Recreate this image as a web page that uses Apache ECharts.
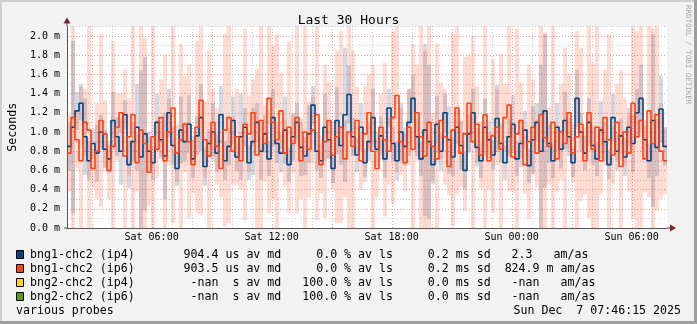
<!DOCTYPE html>
<html>
<head>
<meta charset="utf-8">
<script src="https://cdn.jsdelivr.net/npm/echarts@6/dist/echarts.min.js"></script>
<style>
  html, body { margin: 0; padding: 0; background: #f2f2f2; }
  #chart { width: 697px; height: 324px; }
</style>
</head>
<body>
<div id="chart"></div>
<script>
// Time window, in hours counted from Sat 00:00
const startHour = 1.7708;
const endHour = 31.7708;
const stepHours = 0.2;
const yMax = 2.1;

const tickHours = [6, 12, 18, 24, 30];
const tickLabels = ['Sat 06:00', 'Sat 12:00', 'Sat 18:00', 'Sun 00:00', 'Sun 06:00'];

// Median round-trip time per step (ms)
const ip4Median = [
  0.85, 1.05, 1.22, 1.30, 0.95, 0.70, 0.88, 0.78, 1.00, 0.82,
  0.72, 1.12, 0.95, 0.80, 1.18, 0.66, 0.90, 1.05, 0.74, 0.98,
  0.80, 0.68, 1.10, 0.92, 0.75, 1.20, 0.86, 0.62, 1.02, 0.90,
  1.08, 0.72, 0.96, 1.15, 0.64, 0.88, 1.00, 0.78, 1.18, 0.70,
  0.85, 1.12, 0.74, 0.95, 1.05, 0.68, 0.90, 1.10, 0.80, 0.98,
  0.72, 1.15, 0.88, 0.78, 1.02, 0.66, 0.95, 1.10, 0.84, 0.75,
  0.98, 1.28, 0.80, 0.70, 1.05, 0.92, 0.62, 1.12, 0.86, 1.18,
  1.39, 0.95, 0.76, 1.05, 0.68, 0.90, 1.15, 0.82, 0.96, 0.72,
  1.25, 0.88, 0.70, 1.00, 0.85, 1.10, 1.35, 0.95, 0.72, 1.02,
  0.90, 0.66, 1.08, 0.80, 1.20, 0.92, 0.74, 1.05, 0.86, 0.60,
  0.98, 1.20, 0.84, 0.70, 1.05, 0.92, 0.76, 1.14, 0.88, 0.68,
  0.95, 1.08, 0.72, 0.88, 1.02, 0.65, 0.92, 1.10, 0.80, 1.22,
  0.88, 0.70, 1.05, 0.82, 1.12, 0.95, 0.68, 1.35, 1.00, 0.78,
  1.10, 0.86, 0.72, 1.02, 0.90, 0.66, 1.15, 0.80, 0.96, 0.74,
  1.05, 0.88, 1.20, 1.35, 0.92, 0.70, 1.12, 0.84, 1.24, 0.85
];
const ip6Median = [
  0.78, 1.15, 0.92, 0.70, 1.10, 1.02, 0.62, 0.80, 1.12, 0.98,
  0.60, 0.85, 1.05, 1.20, 0.75, 0.95, 1.18, 0.68, 1.02, 0.88,
  0.58, 0.95, 0.82, 1.15, 0.70, 1.00, 1.25, 0.78, 0.92, 1.08,
  0.90, 0.66, 1.05, 1.33, 0.92, 0.75, 1.10, 0.85, 0.62, 1.02,
  1.15, 0.80, 0.95, 0.70, 1.08, 0.98, 1.20, 0.76, 1.12, 0.88,
  1.35, 1.10, 0.92, 1.22, 0.78, 1.05, 0.88, 1.15, 0.70, 1.00,
  0.82, 1.02, 1.18, 0.66, 0.90, 1.12, 0.76, 0.95, 1.05, 0.72,
  1.00, 0.85, 1.12, 0.70, 0.98, 1.20, 0.80, 0.62, 1.05, 0.92,
  0.80, 1.15, 1.38, 0.90, 0.68, 1.05, 0.82, 1.20, 0.95, 0.75,
  1.10, 0.85, 0.72, 1.12, 0.95, 0.64, 1.02, 1.25, 0.78, 0.98,
  1.30, 0.90, 1.08, 0.76, 1.18, 0.70, 0.96, 1.05, 0.82, 1.15,
  1.28, 0.74, 0.98, 1.12, 0.66, 0.90, 1.05, 0.78, 1.18, 0.94,
  0.85, 1.10, 0.72, 1.00, 0.88, 1.20, 0.78, 0.95, 1.08, 0.70,
  1.20, 0.82, 1.05, 0.70, 1.15, 0.92, 0.76, 1.10, 0.64, 1.00,
  0.78, 1.30, 0.95, 1.12, 0.72, 1.22, 0.88, 1.18, 0.80, 0.70
];

// Standard deviation per step (ms), drawn as smoke around the median
const ip4Sd = [
  0.25, 0.90, 0.20, 0.18, 0.40, 0.20, 0.15, 0.30, 0.18, 0.20,
  0.15, 0.30, 0.20, 0.35, 0.15, 0.25, 0.20, 0.45, 0.90, 0.80,
  0.20, 0.18, 0.30, 0.20, 0.45, 0.25, 0.20, 0.18, 0.35, 0.20,
  0.30, 0.20, 0.20, 0.35, 0.20, 0.15, 0.30, 0.20, 0.30, 0.20,
  0.20, 0.25, 0.15, 0.45, 0.20, 0.18, 0.35, 0.20, 0.30, 0.20,
  0.18, 0.30, 0.20, 0.20, 0.35, 0.18, 0.25, 0.20, 0.30, 0.20,
  0.30, 0.20, 0.20, 0.18, 0.35, 0.20, 0.15, 0.35, 0.20, 0.70,
  0.30, 0.20, 0.18, 0.25, 0.15, 0.20, 0.30, 0.18, 0.20, 0.20,
  0.20, 0.18, 0.20, 0.30, 0.20, 0.35, 0.25, 0.20, 0.18, 0.90,
  0.80, 0.20, 0.30, 0.20, 0.20, 0.35, 0.20, 0.18, 0.25, 0.20,
  0.20, 0.25, 0.20, 0.18, 0.30, 0.20, 0.15, 0.35, 0.20, 0.18,
  0.20, 0.30, 0.18, 0.25, 0.20, 0.18, 0.35, 0.20, 0.90, 0.80,
  0.20, 0.18, 0.25, 0.20, 0.30, 0.20, 0.15, 0.30, 0.20, 0.18,
  0.25, 0.20, 0.18, 0.30, 0.20, 0.15, 0.25, 0.20, 0.18, 0.20,
  0.20, 0.30, 0.25, 0.35, 0.20, 0.18, 0.90, 0.30, 0.35, 0.20
];
const ip6Sd = [
  0.40, 1.20, 0.30, 0.80, 0.35, 1.30, 0.20, 0.50, 0.90, 0.35,
  0.30, 1.10, 0.35, 0.20, 0.90, 0.40, 1.20, 0.30, 1.10, 1.10,
  0.35, 1.20, 0.30, 0.40, 1.10, 0.35, 1.20, 0.30, 1.00, 0.50,
  0.80, 0.30, 0.90, 1.20, 0.40, 1.10, 0.35, 0.40, 0.30, 1.00,
  1.10, 0.35, 0.50, 0.30, 1.00, 0.40, 0.35, 0.90, 1.20, 0.40,
  1.20, 0.80, 1.10, 0.40, 0.35, 0.90, 0.30, 1.00, 0.40, 1.20,
  0.50, 0.35, 1.10, 0.30, 0.80, 0.40, 0.35, 0.90, 1.00, 0.40,
  1.20, 1.00, 0.35, 0.30, 0.50, 0.40, 0.90, 0.30, 0.35, 0.80,
  0.35, 0.90, 0.80, 0.35, 0.30, 0.40, 1.10, 0.50, 1.20, 1.10,
  1.10, 0.35, 1.20, 0.40, 0.50, 0.30, 1.00, 0.90, 0.35, 0.80,
  0.50, 1.10, 0.40, 0.35, 1.20, 0.30, 0.80, 0.40, 1.00, 0.35,
  0.90, 0.35, 1.10, 0.40, 0.30, 0.80, 0.50, 0.35, 1.20, 1.10,
  0.40, 1.20, 0.35, 0.50, 1.00, 0.40, 0.30, 1.10, 0.80, 0.35,
  1.10, 0.90, 1.20, 0.35, 0.50, 1.10, 0.30, 0.40, 1.00, 0.35,
  0.40, 1.20, 1.10, 1.20, 0.35, 0.90, 1.20, 1.00, 0.50, 0.35
];

// Legend rows: swatch colour, target name and summary statistics
const legendColors = ['#004586', '#ff420e', '#ffd320', '#579d1c'];
const legendNames = ['bng1-chc2 (ip4)', 'bng1-chc2 (ip6)', 'bng2-chc2 (ip4)', 'bng2-chc2 (ip6)'];
const avgMedian = ['904.4', '903.5', '-nan', '-nan'];
const avgMedianUnit = ['us', 'us', 's', 's'];
const avgLoss = ['0.0', '0.0', '100.0', '100.0'];
const avgSd = ['0.2', '0.2', '0.0', '0.0'];
const amas = ['2.3', '824.9', '-nan', '-nan'];
const amasUnit = [' ', 'm', ' ', ' '];
const footerLeft = 'various probes';
const footerRight = 'Sun Dec  7 07:46:15 2025';

const MONO = '"DejaVu Sans Mono", "Liberation Mono", monospace';

function legendLine(i) {
  const amasCol = amas[i] === '2.3' ? (amas[i] + ' ').padStart(7) : amas[i].padStart(7);
  const tail = amas[i] === '2.3' ? '  am/as' : ' ' + amasUnit[i] + ' am/as';
  return legendNames[i].padEnd(22) +
    avgMedian[i].padStart(5) + ' ' + avgMedianUnit[i].padStart(2) + ' av md' +
    avgLoss[i].padStart(8) + ' % av ls' +
    avgSd[i].padStart(8) + ' ms sd' +
    amasCol + tail;
}

function smokeSeries(name, med, sd, fill) {
  const data = med.map((m, i) => [startHour + i * stepHours, Math.max(0, m - sd[i]), Math.min(yMax, m + sd[i])]);
  return {
    type: 'custom', name, silent: true, z: 2, animation: false,
    data, encode: { x: 0, y: [1, 2] },
    renderItem(params, api) {
      const t = api.value(0);
      const top = api.coord([t, api.value(2)]);
      const bot = api.coord([t + stepHours, api.value(1)]);
      return { type: 'rect', shape: { x: top[0], y: top[1], width: bot[0] - top[0], height: bot[1] - top[1] }, style: { fill } };
    }
  };
}

function medianLine(name, med, color) {
  const data = med.map((m, i) => [startHour + i * stepHours, m]);
  data.push([endHour, med[med.length - 1]]);
  return {
    type: 'line', name, data, step: 'end', symbol: 'none', z: 5, animation: false,
    lineStyle: { color, width: 1.6 }
  };
}

// hourly vertical grid; every third hour in red
const gridHours = [];
for (let h = Math.ceil(startHour); h < endHour; h++) gridHours.push(h);

const verticalGrid = {
  type: 'custom', silent: true, z: 3, animation: false,
  data: gridHours.map(h => [h]), encode: { x: 0 },
  renderItem(params, api) {
    const h = api.value(0);
    const a = api.coord([h, 0]);
    const b = api.coord([h, yMax]);
    const x = Math.round(a[0]) + 0.5;
    return {
      type: 'line', shape: { x1: x, y1: a[1], x2: x, y2: b[1] },
      style: { stroke: h % 3 === 0 ? 'rgba(225,70,70,0.55)' : 'rgba(150,150,150,0.5)', lineWidth: 1, lineDash: [1, 2] }
    };
  }
};

const axisArrows = {
  type: 'custom', silent: true, z: 6, animation: false,
  data: [[endHour, 0]], encode: { x: 0, y: 1 },
  renderItem(params, api) {
    const o = api.coord([startHour, 0]);
    const xe = api.coord([endHour, 0]);
    const yt = api.coord([startHour, yMax]);
    const fill = '#7f1f1f';
    return {
      type: 'group', children: [
        { type: 'polygon', shape: { points: [[xe[0] + 9, xe[1]], [xe[0] + 3, xe[1] - 3.5], [xe[0] + 3, xe[1] + 3.5]] }, style: { fill } },
        { type: 'polygon', shape: { points: [[yt[0], yt[1] - 9], [yt[0] - 3.5, yt[1] - 3], [yt[0] + 3.5, yt[1] - 3]] }, style: { fill } },
        { type: 'line', shape: { x1: xe[0], y1: xe[1], x2: xe[0] + 4, y2: xe[1] }, style: { stroke: '#555', lineWidth: 1 } },
        { type: 'line', shape: { x1: yt[0], y1: yt[1], x2: yt[0], y2: yt[1] - 4 }, style: { stroke: '#555', lineWidth: 1 } },
        { type: 'line', shape: { x1: o[0] - 3, y1: o[1], x2: o[0], y2: o[1] }, style: { stroke: '#555', lineWidth: 1 } }
      ]
    };
  }
};

const graphics = [
  { type: 'rect', shape: { x: 0, y: 0, width: 697, height: 2 }, style: { fill: '#cfcfcf' }, silent: true },
  { type: 'rect', shape: { x: 0, y: 0, width: 2, height: 324 }, style: { fill: '#cfcfcf' }, silent: true },
  { type: 'rect', shape: { x: 694, y: 0, width: 3, height: 324 }, style: { fill: '#9e9e9e' }, silent: true },
  { type: 'rect', shape: { x: 0, y: 321, width: 697, height: 3 }, style: { fill: '#9e9e9e' }, silent: true },
  {
    type: 'text', x: 688, y: 5, rotation: -Math.PI / 2, silent: true,
    style: { text: 'RRDTOOL / TOBI OETIKER', font: '7.5px ' + MONO, fill: '#a8a8a8', textAlign: 'left', textVerticalAlign: 'middle' }
  }
];
legendNames.forEach((name, i) => {
  const y = 255 + i * 14;
  graphics.push({ type: 'rect', shape: { x: 16.5, y: y - 4.5, width: 7, height: 8 }, style: { fill: legendColors[i], stroke: '#000', lineWidth: 1 }, silent: true });
  graphics.push({ type: 'text', x: 30, y, silent: true, style: { text: legendLine(i), font: '11.6px ' + MONO, fill: '#000', textVerticalAlign: 'middle' } });
});
graphics.push({ type: 'text', x: 16, y: 311, silent: true, style: { text: footerLeft, font: '11.6px ' + MONO, fill: '#000', textVerticalAlign: 'middle' } });
graphics.push({ type: 'text', x: 681, y: 311, silent: true, style: { text: footerRight, font: '11.6px ' + MONO, fill: '#000', textAlign: 'right', textVerticalAlign: 'middle' } });

const chart = echarts.init(document.getElementById('chart'), null, { renderer: 'canvas' });
chart.setOption({
  backgroundColor: '#f2f2f2',
  animation: false,
  title: {
    text: 'Last 30 Hours', left: 'center', top: 9,
    textStyle: { fontFamily: MONO, fontSize: 13, fontWeight: 'normal', color: '#000' }
  },
  grid: {
    left: 67, right: 30, top: 26.4, bottom: 96,
    outerBoundsMode: 'none', containLabel: false,
    backgroundColor: '#ffffff', show: true, borderWidth: 0
  },
  xAxis: {
    type: 'value', min: startHour, max: endHour,
    axisLine: { show: true, lineStyle: { color: '#555', width: 1 } },
    axisTick: { show: false },
    splitLine: { show: false },
    axisLabel: {
      customValues: tickHours,
      formatter: v => tickLabels[tickHours.indexOf(Math.round(v))] || '',
      fontFamily: MONO, fontSize: 10, color: '#000', margin: 4
    }
  },
  yAxis: {
    type: 'value', min: 0, max: yMax, interval: 0.1,
    name: 'Seconds', nameLocation: 'middle', nameRotate: 90, nameGap: 48,
    nameTextStyle: { fontFamily: MONO, fontSize: 11.6, color: '#000' },
    axisLine: { show: true, lineStyle: { color: '#555', width: 1 } },
    axisTick: { show: false },
    axisLabel: {
      formatter: v => (Math.round(v * 10) % 2 === 0 && v < 2.05) ? v.toFixed(1) + ' m' : '',
      fontFamily: MONO, fontSize: 10, color: '#000', margin: 7
    },
    splitLine: { show: true, lineStyle: { color: ['rgba(225,70,70,0.55)', 'rgba(150,150,150,0.5)'], type: [1, 2], width: 1 } }
  },
  graphic: graphics,
  series: [
    smokeSeries('bng1-chc2 (ip4) smoke', ip4Median, ip4Sd, 'rgba(0,69,134,0.19)'),
    smokeSeries('bng1-chc2 (ip6) smoke', ip6Median, ip6Sd, 'rgba(255,66,14,0.19)'),
    verticalGrid,
    medianLine('bng1-chc2 (ip4)', ip4Median, '#004586'),
    medianLine('bng1-chc2 (ip6)', ip6Median, '#ff420e'),
    axisArrows
  ]
});
</script>
</body>
</html>
